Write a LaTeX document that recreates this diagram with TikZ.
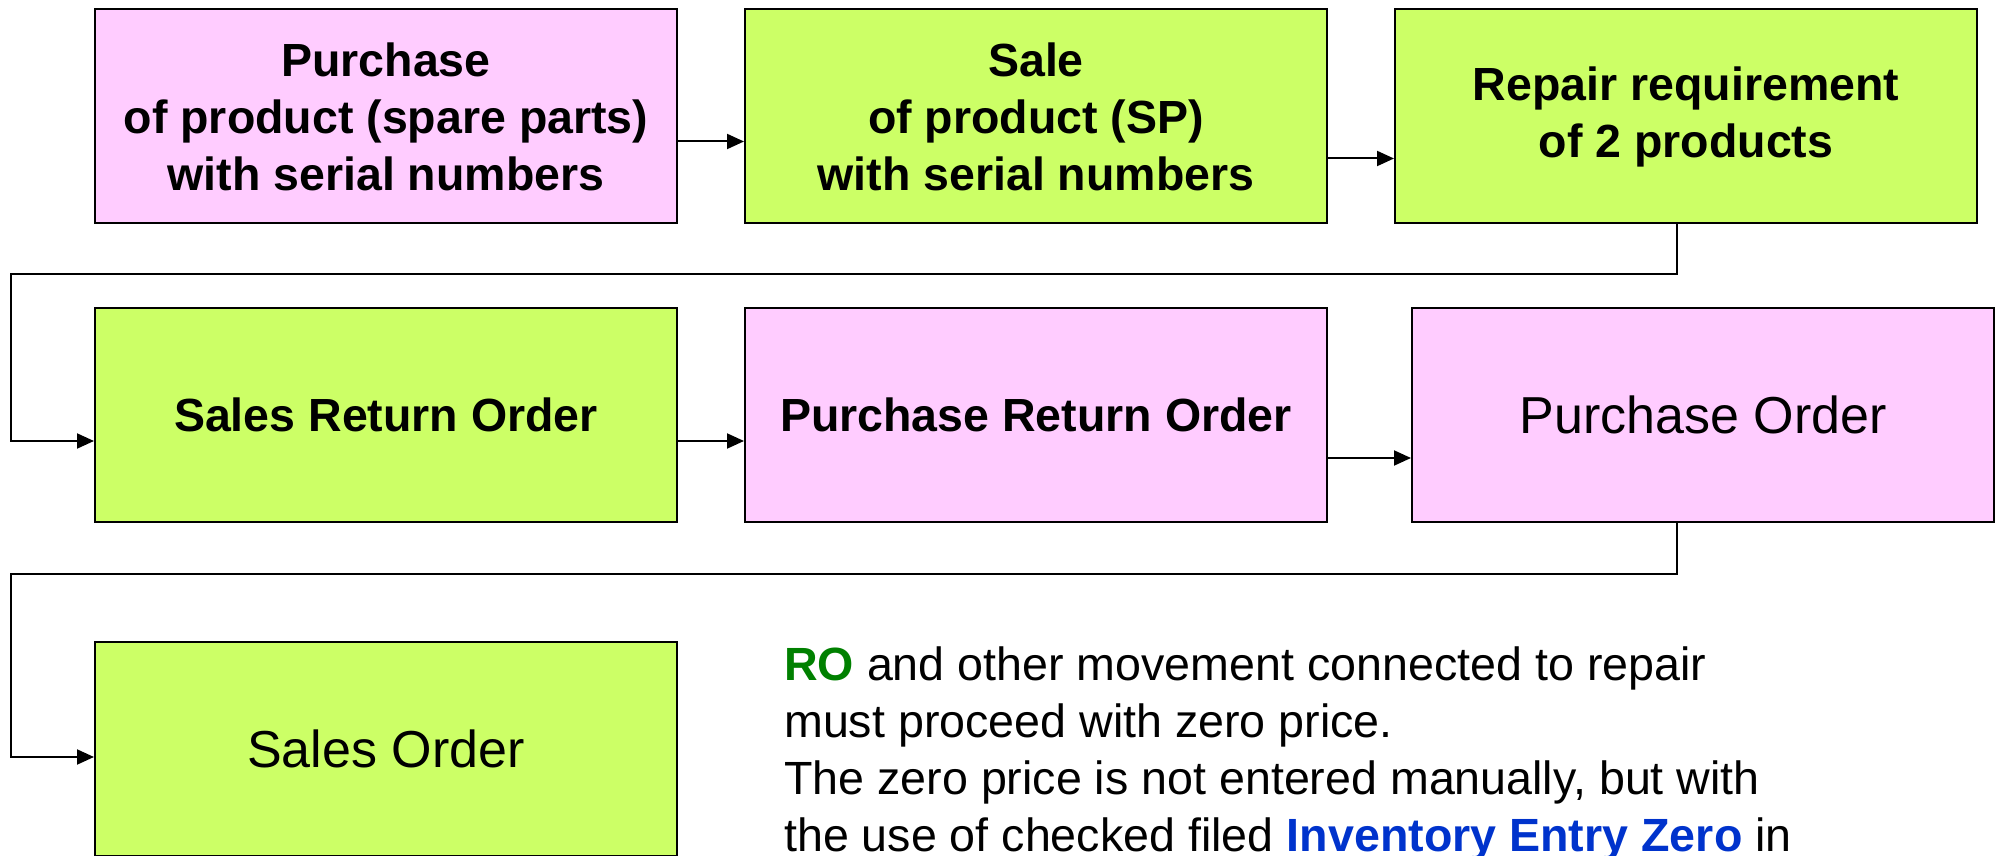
\documentclass[tikz,border=0pt]{standalone}
\usepackage{fontspec}
\setmainfont{Liberation Sans}
\usetikzlibrary{arrows.meta,positioning}
\definecolor{pinkfill}{HTML}{FFCCFF}
\definecolor{limefill}{HTML}{CCFF66}
\definecolor{rogreen}{HTML}{008000}
\definecolor{fieldblue}{HTML}{0033CC}

\begin{document}
\begin{tikzpicture}[x=1pt,y=1pt,>={Triangle[length=17pt,width=15pt]},
    box/.style={draw=black,line width=2pt,minimum width=582pt,minimum height=214pt,
                align=center,inner sep=0pt,font=\fontsize{46.5}{57}\selectfont\bfseries},
    pinkbox/.style={box,fill=pinkfill},
    limebox/.style={box,fill=limefill},
    plain/.style={font=\fontsize{52}{62}\selectfont},
    conn/.style={->,line width=2pt}]
  \useasboundingbox (0,0) rectangle (1997,855);
  % first row
  \node[pinkbox] (pur) at (386,738.5) {Purchase\\of product (spare parts)\\with serial numbers};
  \node[limebox,right=66pt of pur] (sale) {Sale\\of product (SP)\\with serial numbers};
  \node[limebox,right=66pt of sale] (rep) {Repair requirement\\of 2 products};
  % second row
  \node[limebox,below=82.5pt of pur] (sro) {Sales Return Order};
  \node[pinkbox,right=66pt of sro] (pro) {Purchase Return Order};
  \node[pinkbox,plain,right=83pt of pro] (po) {Purchase Order};
  % third row
  \node[limebox,plain,below=118pt of sro] (so) {Sales Order};
  \node[anchor=north west,inner sep=0pt,align=left,font=\fontsize{46.6}{57}\selectfont] (note) at (784,208)
    {\textcolor{rogreen}{\bfseries RO} and other movement connected to repair\\
     must proceed with zero price.\\
     The zero price is not entered manually, but with\\
     the use of checked filed \textcolor{fieldblue}{\bfseries Inventory Entry Zero} in};
  % connectors
  \coordinate (bend1) at (11,581);
  \coordinate (bend2) at (11,281);
  \draw[conn] ([yshift=-25pt]pur.east) -- ([yshift=-25pt]sale.west);
  \draw[conn] ([yshift=-42pt]sale.east) -- ([yshift=-42pt]rep.west);
  \draw[conn] ([xshift=-9pt]rep.south) |- (bend1) |- ([yshift=-26pt]sro.west);
  \draw[conn] ([yshift=-26pt]sro.east) -- ([yshift=-26pt]pro.west);
  \draw[conn] ([yshift=-43pt]pro.east) -- ([yshift=-43pt]po.west);
  \draw[conn] ([xshift=-26pt]po.south) |- (bend2) |- ([yshift=-8pt]so.west);
\end{tikzpicture}
\end{document}
